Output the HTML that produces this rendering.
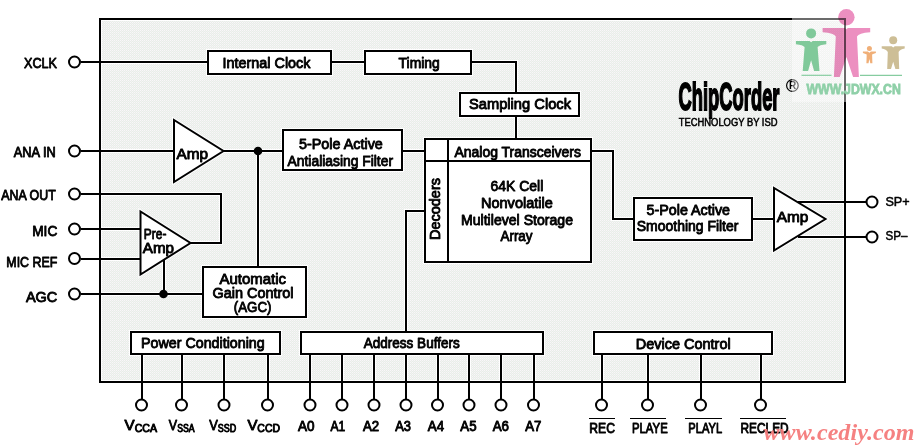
<!DOCTYPE html>
<html lang="en"><head><meta charset="utf-8"><title>ChipCorder Block Diagram</title>
<style>html,body{margin:0;padding:0;background:#fff;}body{width:915px;height:446px;overflow:hidden;}svg{display:block;}text{font-family:"Liberation Sans",sans-serif;fill:#000;}.t{font-size:15px;stroke:#000;stroke-width:0.9px;stroke-linejoin:round;}.ln{stroke:#000;stroke-width:2;fill:none;shape-rendering:crispEdges;}.halo{stroke:#fff;stroke-width:4;fill:none;shape-rendering:crispEdges;}.bx{stroke:#000;stroke-width:2;fill:#fff;shape-rendering:crispEdges;}.pin{stroke:#000;stroke-width:2;fill:#fff;}.tri{stroke:#000;stroke-width:2;fill:#fff;stroke-linejoin:miter;}</style></head><body>
<svg width="915" height="446" viewBox="0 0 915 446">
<rect x="0" y="0" width="915" height="446" fill="#fff"/>
<rect x="100" y="19" width="745" height="363" class="bx"/>
<defs><pattern id="dth" x="0" y="0" width="2" height="2" patternUnits="userSpaceOnUse"><rect width="2" height="2" fill="#eaebea"/><rect x="0" y="0" width="1" height="1" fill="#f8f8f8"/><rect x="1" y="1" width="1" height="1" fill="#eff6ef"/></pattern></defs>
<rect x="102" y="21" width="741" height="359" fill="url(#dth)" shape-rendering="crispEdges"/>
<rect x="208" y="51" width="123" height="23" class="halo"/>
<rect x="365" y="51" width="106" height="23" class="halo"/>
<rect x="460" y="93" width="119" height="23" class="halo"/>
<rect x="283" y="129.5" width="119" height="40.5" class="halo"/>
<rect x="425" y="139" width="166" height="122.5" class="halo"/>
<rect x="634" y="197.5" width="118" height="42.0" class="halo"/>
<rect x="203" y="267" width="103" height="49.5" class="halo"/>
<rect x="131" y="332" width="148.5" height="22" class="halo"/>
<rect x="301" y="332" width="242" height="22" class="halo"/>
<rect x="594" y="332" width="178" height="22" class="halo"/>
<g stroke="#fff" stroke-width="4" fill="none"><polygon points="174,120 174,182 223.5,151"/><polygon points="140.5,211.5 140.5,274.5 190.5,243"/><polygon points="774,188 774,250.5 825.5,219"/></g>
<polyline points="80.5,62 208,62" class="halo"/>
<polyline points="331,62 365,62" class="halo"/>
<polyline points="471,62 516,62 516,93" class="halo"/>
<polyline points="516,116 516,139" class="halo"/>
<polyline points="80.5,151 174,151" class="halo"/>
<polyline points="223,151 283,151" class="halo"/>
<polyline points="402,151 425,151" class="halo"/>
<polyline points="80.5,194 220.5,194 220.5,243 190,243" class="halo"/>
<polyline points="80.5,229 141,229" class="halo"/>
<polyline points="80.5,258.5 141,258.5" class="halo"/>
<polyline points="80.5,294 203,294" class="halo"/>
<polyline points="163.5,258 163.5,294" class="halo"/>
<polyline points="258,151 258,267" class="halo"/>
<polyline points="425,210.5 406,210.5 406,332" class="halo"/>
<polyline points="591,151 612.5,151 612.5,218.5 634,218.5" class="halo"/>
<polyline points="752,218.5 774,218.5" class="halo"/>
<polyline points="798,202 866,202" class="halo"/>
<polyline points="798,237 866,237" class="halo"/>
<polyline points="141.5,354 141.5,399" class="halo"/>
<polyline points="181.5,354 181.5,399" class="halo"/>
<polyline points="224,354 224,399" class="halo"/>
<polyline points="267.5,354 267.5,399" class="halo"/>
<polyline points="310,354 310,399" class="halo"/>
<polyline points="342,354 342,399" class="halo"/>
<polyline points="374,354 374,399" class="halo"/>
<polyline points="406,354 406,399" class="halo"/>
<polyline points="437.5,354 437.5,399" class="halo"/>
<polyline points="469,354 469,399" class="halo"/>
<polyline points="501,354 501,399" class="halo"/>
<polyline points="533.5,354 533.5,399" class="halo"/>
<polyline points="601.5,354 601.5,399" class="halo"/>
<polyline points="647.5,354 647.5,399" class="halo"/>
<polyline points="700.5,354 700.5,399" class="halo"/>
<polyline points="760.5,354 760.5,399" class="halo"/>
<polyline points="80.5,62 208,62" class="ln"/>
<polyline points="331,62 365,62" class="ln"/>
<polyline points="471,62 516,62 516,93" class="ln"/>
<polyline points="516,116 516,139" class="ln"/>
<polyline points="80.5,151 174,151" class="ln"/>
<polyline points="223,151 283,151" class="ln"/>
<polyline points="402,151 425,151" class="ln"/>
<polyline points="80.5,194 220.5,194 220.5,243 190,243" class="ln"/>
<polyline points="80.5,229 141,229" class="ln"/>
<polyline points="80.5,258.5 141,258.5" class="ln"/>
<polyline points="80.5,294 203,294" class="ln"/>
<polyline points="163.5,258 163.5,294" class="ln"/>
<polyline points="258,151 258,267" class="ln"/>
<polyline points="425,210.5 406,210.5 406,332" class="ln"/>
<polyline points="591,151 612.5,151 612.5,218.5 634,218.5" class="ln"/>
<polyline points="752,218.5 774,218.5" class="ln"/>
<polyline points="798,202 866,202" class="ln"/>
<polyline points="798,237 866,237" class="ln"/>
<polyline points="141.5,354 141.5,399" class="ln"/>
<polyline points="181.5,354 181.5,399" class="ln"/>
<polyline points="224,354 224,399" class="ln"/>
<polyline points="267.5,354 267.5,399" class="ln"/>
<polyline points="310,354 310,399" class="ln"/>
<polyline points="342,354 342,399" class="ln"/>
<polyline points="374,354 374,399" class="ln"/>
<polyline points="406,354 406,399" class="ln"/>
<polyline points="437.5,354 437.5,399" class="ln"/>
<polyline points="469,354 469,399" class="ln"/>
<polyline points="501,354 501,399" class="ln"/>
<polyline points="533.5,354 533.5,399" class="ln"/>
<polyline points="601.5,354 601.5,399" class="ln"/>
<polyline points="647.5,354 647.5,399" class="ln"/>
<polyline points="700.5,354 700.5,399" class="ln"/>
<polyline points="760.5,354 760.5,399" class="ln"/>
<rect x="100" y="19" width="745" height="363" class="ln"/>
<rect x="208" y="51" width="123" height="23" class="bx"/>
<rect x="365" y="51" width="106" height="23" class="bx"/>
<rect x="460" y="93" width="119" height="23" class="bx"/>
<rect x="283" y="129.5" width="119" height="40.5" class="bx"/>
<rect x="425" y="139" width="166" height="122.5" class="bx"/>
<line x1="447.5" y1="139" x2="447.5" y2="261.5" class="ln"/>
<line x1="425" y1="161" x2="591" y2="161" class="ln"/>
<rect x="634" y="197.5" width="118" height="42.0" class="bx"/>
<rect x="203" y="267" width="103" height="49.5" class="bx"/>
<rect x="131" y="332" width="148.5" height="22" class="bx"/>
<rect x="301" y="332" width="242" height="22" class="bx"/>
<rect x="594" y="332" width="178" height="22" class="bx"/>
<polygon points="174,120 174,182 223.5,151" class="tri"/>
<polygon points="140.5,211.5 140.5,274.5 190.5,243" class="tri"/>
<polygon points="774,188 774,250.5 825.5,219" class="tri"/>
<circle cx="258" cy="151" r="4.3" fill="#000"/>
<circle cx="163.5" cy="294" r="4.3" fill="#000"/>
<circle cx="74.5" cy="62" r="5.5" class="pin"/>
<circle cx="74.5" cy="151" r="5.5" class="pin"/>
<circle cx="74.5" cy="194" r="5.5" class="pin"/>
<circle cx="74.5" cy="229" r="5.5" class="pin"/>
<circle cx="74.5" cy="258.5" r="5.5" class="pin"/>
<circle cx="74.5" cy="294" r="5.5" class="pin"/>
<circle cx="141.5" cy="405" r="5.5" class="pin"/>
<circle cx="181.5" cy="405" r="5.5" class="pin"/>
<circle cx="224" cy="405" r="5.5" class="pin"/>
<circle cx="267.5" cy="405" r="5.5" class="pin"/>
<circle cx="310" cy="405" r="5.5" class="pin"/>
<circle cx="342" cy="405" r="5.5" class="pin"/>
<circle cx="374" cy="405" r="5.5" class="pin"/>
<circle cx="406" cy="405" r="5.5" class="pin"/>
<circle cx="437.5" cy="405" r="5.5" class="pin"/>
<circle cx="469" cy="405" r="5.5" class="pin"/>
<circle cx="501" cy="405" r="5.5" class="pin"/>
<circle cx="533.5" cy="405" r="5.5" class="pin"/>
<circle cx="601.5" cy="405" r="5.5" class="pin"/>
<circle cx="647.5" cy="405" r="5.5" class="pin"/>
<circle cx="700.5" cy="405" r="5.5" class="pin"/>
<circle cx="760.5" cy="405" r="5.5" class="pin"/>
<circle cx="872" cy="202" r="5.5" class="pin"/>
<circle cx="872" cy="237" r="5.5" class="pin"/>
<text x="24" y="68.4" textLength="33" lengthAdjust="spacingAndGlyphs" class="t" >XCLK</text>
<text x="13.8" y="157.0" textLength="42.0" lengthAdjust="spacingAndGlyphs" class="t" >ANA IN</text>
<text x="1.3" y="200.4" textLength="54.5" lengthAdjust="spacingAndGlyphs" class="t" >ANA OUT</text>
<text x="32.2" y="235.6" textLength="25.1" lengthAdjust="spacingAndGlyphs" class="t" >MIC</text>
<text x="6.3" y="267.0" textLength="51.0" lengthAdjust="spacingAndGlyphs" class="t" >MIC REF</text>
<text x="25.9" y="301.7" textLength="31.4" lengthAdjust="spacingAndGlyphs" class="t" >AGC</text>
<text x="222.6" y="68.2" textLength="87.9" lengthAdjust="spacingAndGlyphs" class="t" >Internal Clock</text>
<text x="398.6" y="68.2" textLength="41.1" lengthAdjust="spacingAndGlyphs" class="t" >Timing</text>
<text x="469" y="109.4" textLength="102" lengthAdjust="spacingAndGlyphs" class="t" >Sampling Clock</text>
<text x="454.5" y="157.1" textLength="126.5" lengthAdjust="spacingAndGlyphs" class="t" >Analog Transceivers</text>
<text x="299" y="148.8" textLength="83.8" lengthAdjust="spacingAndGlyphs" class="t" >5-Pole Active</text>
<text x="287.6" y="165.9" textLength="105.4" lengthAdjust="spacingAndGlyphs" class="t" >Antialiasing Filter</text>
<text x="490.5" y="190.6" textLength="52.8" lengthAdjust="spacingAndGlyphs" class="t" >64K Cell</text>
<text x="481" y="207.7" textLength="71.8" lengthAdjust="spacingAndGlyphs" class="t" >Nonvolatile</text>
<text x="461" y="225.1" textLength="112" lengthAdjust="spacingAndGlyphs" class="t" >Multilevel Storage</text>
<text x="500.5" y="241.4" textLength="32.0" lengthAdjust="spacingAndGlyphs" class="t" >Array</text>
<text x="0" y="0" textLength="62" lengthAdjust="spacingAndGlyphs" class="t" transform="translate(440,240) rotate(-90)">Decoders</text>
<text x="646.5" y="214.8" textLength="83.5" lengthAdjust="spacingAndGlyphs" class="t" >5-Pole Active</text>
<text x="636.8" y="231.4" textLength="101.6" lengthAdjust="spacingAndGlyphs" class="t" >Smoothing Filter</text>
<text x="776.7" y="222.4" textLength="31.6" lengthAdjust="spacingAndGlyphs" class="t" >Amp</text>
<text x="176.5" y="158.7" textLength="31.5" lengthAdjust="spacingAndGlyphs" class="t" >Amp</text>
<text x="143.8" y="238.6" textLength="22.6" lengthAdjust="spacingAndGlyphs" class="t" >Pre-</text>
<text x="142.8" y="253.2" textLength="31.2" lengthAdjust="spacingAndGlyphs" class="t" >Amp</text>
<text x="219.5" y="283.8" textLength="66.5" lengthAdjust="spacingAndGlyphs" class="t" >Automatic</text>
<text x="212.4" y="298.2" textLength="81.2" lengthAdjust="spacingAndGlyphs" class="t" >Gain Control</text>
<text x="233.8" y="312.0" textLength="37.7" lengthAdjust="spacingAndGlyphs" class="t" >(AGC)</text>
<text x="141" y="348.4" textLength="123.7" lengthAdjust="spacingAndGlyphs" class="t" >Power Conditioning</text>
<text x="363.8" y="348.4" textLength="95.9" lengthAdjust="spacingAndGlyphs" class="t" >Address Buffers</text>
<text x="635.7" y="349.2" textLength="95.0" lengthAdjust="spacingAndGlyphs" class="t" >Device Control</text>
<text x="885.4" y="205.8" textLength="24.2" lengthAdjust="spacingAndGlyphs" class="t" style="font-size:13px;stroke-width:0.5px">SP+</text>
<text x="885.4" y="240.4" textLength="22.0" lengthAdjust="spacingAndGlyphs" class="t" style="font-size:13px;stroke-width:0.5px">SP–</text>
<text x="124.6" y="430.2" textLength="32.5" lengthAdjust="spacingAndGlyphs" class="t">V<tspan style="font-size:10.5px" dy="2.2">CCA</tspan></text>
<text x="168.8" y="430.2" textLength="25.8" lengthAdjust="spacingAndGlyphs" class="t">V<tspan style="font-size:10.5px" dy="2.2">SSA</tspan></text>
<text x="209.2" y="430.2" textLength="27.0" lengthAdjust="spacingAndGlyphs" class="t">V<tspan style="font-size:10.5px" dy="2.2">SSD</tspan></text>
<text x="247.4" y="430.2" textLength="32.6" lengthAdjust="spacingAndGlyphs" class="t">V<tspan style="font-size:10.5px" dy="2.2">CCD</tspan></text>
<text x="298" y="431.0" textLength="16.5" lengthAdjust="spacingAndGlyphs" class="t" style="font-size:14px">A0</text>
<text x="330.4" y="431.0" textLength="14.8" lengthAdjust="spacingAndGlyphs" class="t" style="font-size:14px">A1</text>
<text x="362.9" y="431.0" textLength="16.2" lengthAdjust="spacingAndGlyphs" class="t" style="font-size:14px">A2</text>
<text x="395.3" y="431.0" textLength="15.7" lengthAdjust="spacingAndGlyphs" class="t" style="font-size:14px">A3</text>
<text x="427.8" y="431.0" textLength="16.2" lengthAdjust="spacingAndGlyphs" class="t" style="font-size:14px">A4</text>
<text x="460.3" y="431.0" textLength="16.2" lengthAdjust="spacingAndGlyphs" class="t" style="font-size:14px">A5</text>
<text x="492.7" y="431.0" textLength="16.3" lengthAdjust="spacingAndGlyphs" class="t" style="font-size:14px">A6</text>
<text x="525.2" y="431.0" textLength="16.2" lengthAdjust="spacingAndGlyphs" class="t" style="font-size:14px">A7</text>
<text x="589.3" y="432.8" textLength="25.6" lengthAdjust="spacingAndGlyphs" class="t" style="font-size:14px">REC</text>
<line x1="589.3" y1="418.5" x2="614.9" y2="418.5" stroke="#000" stroke-width="1" shape-rendering="crispEdges"/>
<text x="632" y="432.8" textLength="35.7" lengthAdjust="spacingAndGlyphs" class="t" style="font-size:14px">PLAYE</text>
<line x1="629.8" y1="418.5" x2="665.8" y2="418.5" stroke="#000" stroke-width="1" shape-rendering="crispEdges"/>
<text x="688.3" y="432.8" textLength="33.8" lengthAdjust="spacingAndGlyphs" class="t" style="font-size:14px">PLAYL</text>
<line x1="685" y1="418.5" x2="722" y2="418.5" stroke="#000" stroke-width="1" shape-rendering="crispEdges"/>
<text x="740.5" y="432.8" textLength="48.1" lengthAdjust="spacingAndGlyphs" class="t" style="font-size:14px">RECLED</text>
<line x1="740" y1="418.5" x2="785.6" y2="418.5" stroke="#000" stroke-width="1" shape-rendering="crispEdges"/>
<text x="678.5" y="109.5" textLength="101" lengthAdjust="spacingAndGlyphs" style="font-size:38px;font-weight:bold;stroke:#000;stroke-width:1.9px;stroke-linejoin:miter">ChipCorder</text>
<text x="678.8" y="126.4" textLength="98.7" lengthAdjust="spacingAndGlyphs" style="font-size:10px;stroke:#000;stroke-width:0.5px">TECHNOLOGY BY ISD</text>
<circle cx="792.4" cy="85.5" r="5.8" fill="none" stroke="#000" stroke-width="1.2"/>
<text x="792.5" y="89.2" text-anchor="middle" style="font-size:10px;font-weight:bold">R</text>
<rect x="792" y="5" width="118" height="97" fill="#fff" fill-opacity="0.42"/>
<g fill="#80c99a" ><circle cx="811.1" cy="33.4" r="5"/><path d="M795.9,41 L809.6,41 L811.1,42.2 L812.6,41 L826.3000000000001,41 L826.3000000000001,44.2 Q819.1,45.0 817.6,47 L819.5,71 L814.1,71 L811.1,60.3 L808.1,71 L802.7,71 L804.6,47 Q803.1,45.0 795.9,44.2 Z"/></g>
<g fill="#ec8fc0" style="mix-blend-mode:multiply"><circle cx="846.4" cy="17.2" r="8.2"/><path d="M822.6,28 L844.9,28 L846.4,29.2 L847.9,28 L870.1999999999999,28 L870.1999999999999,32.3 Q858.5,33.099999999999994 857.0,36.5 L858.9,77 L853.1,77 L846.4,57 L839.6999999999999,77 L833.9,77 L835.8,36.5 Q834.3,33.099999999999994 822.6,32.3 Z"/></g>
<g fill="#f0af78" ><circle cx="869.4" cy="48.4" r="2.5"/><path d="M862.9,51.6 L867.9,51.6 L869.4,52.800000000000004 L870.9,51.6 L875.9,51.6 L875.9,53.1 Q873.6,53.9 872.1,54.6 L872.4,63.3 L870.3,63.3 L869.4,59 L868.5,63.3 L866.4,63.3 L866.6999999999999,54.6 Q865.1999999999999,53.9 862.9,53.1 Z"/></g>
<g fill="#cdbe96" ><circle cx="893.2" cy="40.3" r="4"/><path d="M881.7,46.2 L891.7,46.2 L893.2,47.400000000000006 L894.7,46.2 L904.7,46.2 L904.7,48.400000000000006 Q900.1,49.2 898.6,52 L899.2,69 L895.4000000000001,69 L893.2,61.8 L891.0,69 L887.2,69 L887.8000000000001,52 Q886.3000000000001,49.2 881.7,48.400000000000006 Z"/></g>
<line x1="801.5" y1="75.3" x2="831.5" y2="75.3" stroke="#86cca0" stroke-width="1.2"/>
<line x1="860" y1="75.3" x2="902" y2="75.3" stroke="#86cca0" stroke-width="1.2"/>
<text x="806.5" y="94" textLength="94.3" lengthAdjust="spacingAndGlyphs" style="font-size:14.5px;font-weight:bold;fill:#8fd0a8;stroke:#8fd0a8;stroke-width:0.8px">WWW.JDWX.CN</text>
<text x="763.5" y="439.7" textLength="151" lengthAdjust="spacing" style="font-family:'Liberation Serif',serif;font-size:24px;font-weight:bold;font-style:italic;fill:#f47a7a;fill-opacity:0.95">www.cediy.com</text>
</svg></body></html>
